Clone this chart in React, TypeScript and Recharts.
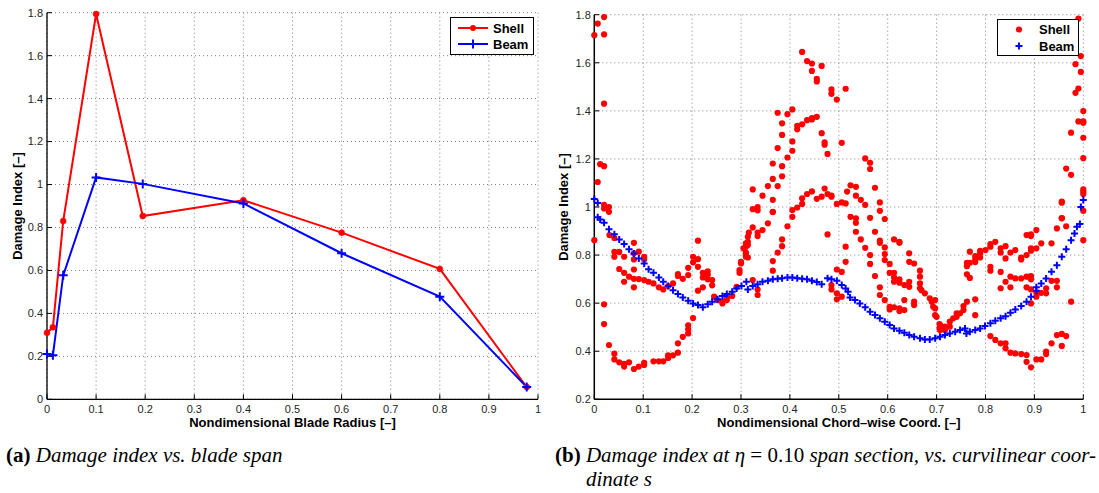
import React from "react";
import {
  LineChart,
  Line,
  XAxis,
  YAxis,
  CartesianGrid,
  Legend,
  ScatterChart,
  Scatter,
  Label,
} from "recharts";

const FONT = '"Liberation Sans", Arial, Helvetica, sans-serif';
const SERIF = '"Liberation Serif", "Times New Roman", Times, serif';
const RED = "#ff0000";
const BLUE = "#0000ff";

// ---------- (a) damage index vs blade span ----------
const spanRadius = [0, 0.012, 0.033, 0.1, 0.195, 0.4, 0.6, 0.8, 0.977];
const spanShell = [0.31, 0.335, 0.83, 1.794, 0.853, 0.927, 0.776, 0.607, 0.057];
const spanBeam = [0.211, 0.205, 0.577, 1.033, 1.003, 0.912, 0.68, 0.478, 0.057];
const radiusTicks = [0, 0.1, 0.2, 0.3, 0.4, 0.5, 0.6, 0.7, 0.8, 0.9, 1];
const spanIndexTicks = [0, 0.2, 0.4, 0.6, 0.8, 1, 1.2, 1.4, 1.6, 1.8];

// ---------- (b) damage index vs chord-wise coordinate ----------
const chordTicks = [0, 0.1, 0.2, 0.3, 0.4, 0.5, 0.6, 0.7, 0.8, 0.9, 1];
const chordIndexTicks = [0.2, 0.4, 0.6, 0.8, 1, 1.2, 1.4, 1.6, 1.8];
const seriesNames = ["Shell", "Beam"];

const chordShell: [number, number][] = [
  [0, 1.715], [0.007, 1.763], [0.02, 1.79], [0.02, 1.718], [0.02, 1.43], [0.012, 1.178], [0.02, 1.17], [0.007, 1.104],
  [0.02, 1.009], [0.02, 0.994], [0.03, 1.0], [0.03, 0.98],
  [0, 0.862], [0.02, 0.595], [0.02, 0.513], [0.03, 0.426], [0.041, 0.39], [0.041, 0.366],
  [0.051, 0.354], [0.061, 0.347], [0.061, 0.336], [0.071, 0.354], [0.081, 0.326], [0.091, 0.336], [0.102, 0.343], [0.102, 0.352],
  [0.121, 0.358], [0.132, 0.358], [0.141, 0.358], [0.151, 0.372], [0.151, 0.383], [0.161, 0.383], [0.171, 0.394], [0.171, 0.433],
  [0.181, 0.46], [0.192, 0.474], [0.192, 0.491], [0.192, 0.508], [0.202, 0.538],
  [0.031, 0.883], [0.041, 0.871], [0.041, 0.813], [0.041, 0.793], [0.051, 0.813], [0.051, 0.742], [0.061, 0.793], [0.061, 0.726], [0.061, 0.689], [0.071, 0.71],
  [0.081, 0.851], [0.081, 0.807], [0.081, 0.782], [0.081, 0.74], [0.081, 0.701], [0.081, 0.666], [0.091, 0.814], [0.091, 0.7], [0.102, 0.793], [0.102, 0.782], [0.102, 0.696],
  [0.111, 0.689], [0.121, 0.682], [0.132, 0.666], [0.141, 0.657], [0.151, 0.671], [0.161, 0.682], [0.171, 0.713], [0.171, 0.721], [0.181, 0.701], [0.192, 0.717], [0.192, 0.747],
  [0.202, 0.793], [0.202, 0.77], [0.212, 0.86], [0.212, 0.783], [0.212, 0.751], [0.212, 0.652], [0.222, 0.726], [0.222, 0.707], [0.222, 0.666], [0.232, 0.732], [0.232, 0.718], [0.232, 0.699], [0.241, 0.696], [0.241, 0.674],
  [0.245, 0.627], [0.252, 0.613], [0.262, 0.606], [0.262, 0.599], [0.271, 0.613], [0.271, 0.624], [0.282, 0.63], [0.291, 0.668], [0.297, 0.726], [0.297, 0.738], [0.3, 0.772], [0.3, 0.765],
  [0.305, 0.828], [0.31, 0.849], [0.31, 0.807], [0.314, 0.876], [0.316, 0.893],
  [0.314, 0.855], [0.314, 0.842], [0.31, 0.835], [0.31, 0.81], [0.31, 0.793], [0.314, 0.79], [0.324, 0.915], [0.334, 0.893], [0.334, 0.879], [0.344, 0.904], [0.355, 0.932], [0.365, 0.98],
  [0.395, 0.92], [0.384, 0.865], [0.384, 0.837], [0.375, 0.81], [0.365, 0.775], [0.365, 0.735], [0.324, 0.696], [0.334, 0.657], [0.334, 0.634],
  [0.425, 1.645], [0.435, 1.607], [0.445, 1.597], [0.445, 1.566], [0.455, 1.533], [0.455, 1.522], [0.465, 1.587], [0.485, 1.489], [0.485, 1.471], [0.496, 1.447], [0.514, 1.492],
  [0.375, 1.392], [0.395, 1.386], [0.405, 1.406], [0.384, 1.348], [0.384, 1.3], [0.415, 1.338], [0.415, 1.323], [0.425, 1.344], [0.435, 1.361], [0.445, 1.37], [0.445, 1.364], [0.455, 1.375], [0.465, 1.307], [0.471, 1.269], [0.471, 1.259], [0.477, 1.221], [0.506, 1.267],
  [0.375, 1.245], [0.405, 1.273], [0.405, 1.234], [0.395, 1.206], [0.365, 1.181], [0.384, 1.17], [0.384, 1.128], [0.365, 1.117], [0.375, 1.087], [0.355, 1.087], [0.324, 1.073], [0.344, 1.047], [0.365, 1.03], [0.365, 0.979],
  [0.324, 0.991], [0.334, 1.0], [0.334, 0.986], [0.405, 0.987], [0.405, 0.959], [0.415, 0.998], [0.425, 1.013], [0.425, 1.036], [0.435, 1.054], [0.445, 1.065], [0.455, 1.034], [0.465, 1.043], [0.471, 1.077], [0.477, 1.054], [0.485, 1.047], [0.485, 1.043], [0.496, 1.013], [0.506, 1.019], [0.514, 1.015],
  [0.517, 1.064], [0.524, 1.09], [0.535, 1.084], [0.535, 1.047], [0.545, 1.03], [0.554, 1.009], [0.554, 1.202], [0.564, 1.184], [0.564, 1.158], [0.574, 1.08], [0.584, 1.019], [0.584, 0.984],
  [0.524, 0.959], [0.535, 0.953], [0.564, 0.955], [0.594, 0.95],
  [0.535, 0.934], [0.535, 0.897], [0.545, 0.865], [0.554, 0.83], [0.477, 0.886], [0.514, 0.835], [0.514, 0.772], [0.496, 0.74], [0.506, 0.73], [0.485, 0.675], [0.485, 0.657], [0.496, 0.641], [0.496, 0.616], [0.506, 0.627],
  [0.574, 0.897], [0.584, 0.86], [0.584, 0.851], [0.564, 0.8], [0.564, 0.763], [0.574, 0.713], [0.584, 0.666], [0.584, 0.634],
  [0.594, 0.832], [0.594, 0.804], [0.594, 0.779], [0.594, 0.613], [0.604, 0.763], [0.604, 0.726], [0.604, 0.585], [0.604, 0.574],
  [0.613, 0.865], [0.624, 0.855], [0.624, 0.851], [0.613, 0.726], [0.613, 0.707], [0.613, 0.689], [0.624, 0.699], [0.624, 0.685], [0.624, 0.578], [0.624, 0.567], [0.613, 0.583],
  [0.634, 0.675], [0.634, 0.613], [0.634, 0.571], [0.644, 0.807], [0.644, 0.772], [0.644, 0.689], [0.644, 0.668], [0.654, 0.765], [0.654, 0.606], [0.654, 0.592],
  [0.666, 0.735], [0.666, 0.71], [0.666, 0.682], [0.666, 0.662], [0.669, 0.654], [0.676, 0.641], [0.686, 0.62], [0.69, 0.606], [0.693, 0.585], [0.697, 0.55], [0.7, 0.543], [0.706, 0.513], [0.706, 0.495],
  [0.697, 0.613], [0.697, 0.578], [0.707, 0.509], [0.707, 0.488], [0.717, 0.502], [0.717, 0.488], [0.727, 0.523], [0.727, 0.502], [0.734, 0.537], [0.741, 0.558], [0.741, 0.543], [0.748, 0.558], [0.755, 0.588], [0.755, 0.571], [0.762, 0.606],
  [0.779, 0.616], [0.779, 0.55],
  [0.762, 0.768], [0.762, 0.754], [0.768, 0.814], [0.768, 0.768], [0.762, 0.72], [0.768, 0.705], [0.779, 0.796], [0.779, 0.782], [0.779, 0.771], [0.789, 0.818], [0.789, 0.807], [0.789, 0.79], [0.8, 0.821],
  [0.82, 0.855], [0.81, 0.846], [0.81, 0.835], [0.841, 0.837], [0.831, 0.828], [0.831, 0.81], [0.861, 0.821], [0.851, 0.81], [0.884, 0.8], [0.873, 0.79], [0.873, 0.782], [0.904, 0.828], [0.893, 0.828], [0.893, 0.818], [0.914, 0.849], [0.935, 0.849],
  [0.893, 0.886], [0.884, 0.883], [0.893, 0.879], [0.904, 0.904], [0.946, 0.911], [0.965, 0.92], [0.956, 0.953], [0.956, 1.018], [1.0, 0.862],
  [0.841, 0.786], [0.831, 0.73], [0.81, 0.751], [0.81, 0.735], [0.851, 0.71], [0.841, 0.689], [0.861, 0.703], [0.873, 0.703], [0.884, 0.71], [0.893, 0.713], [0.893, 0.699], [0.851, 0.666], [0.831, 0.662], [0.884, 0.666], [0.893, 0.657], [0.904, 0.643], [0.914, 0.643], [0.924, 0.641], [0.924, 0.662], [0.935, 0.693], [0.946, 0.693], [0.946, 0.666], [0.904, 0.627], [0.893, 0.599], [0.975, 0.606],
  [0.81, 0.463], [0.82, 0.447], [0.831, 0.433], [0.841, 0.433], [0.841, 0.412], [0.851, 0.394], [0.861, 0.391], [0.873, 0.388], [0.884, 0.384], [0.884, 0.356], [0.893, 0.333], [0.904, 0.366], [0.914, 0.366], [0.924, 0.388], [0.924, 0.398], [0.935, 0.433], [0.946, 0.467], [0.956, 0.472], [0.965, 0.463], [0.956, 0.422],
  [0.99, 1.784], [0.995, 1.628], [0.984, 1.594], [0.995, 1.562], [0.99, 1.493], [0.984, 1.475], [1.0, 1.399], [0.99, 1.356], [1.0, 1.356], [1.0, 1.35], [0.975, 1.309], [1.0, 1.288], [1.0, 1.203], [0.965, 1.16], [0.975, 1.134], [1.0, 1.073], [1.0, 1.063], [1.0, 1.054], [0.956, 1.022], [1.0, 0.984], [0.956, 0.954],
];

const chordBeam: [number, number][] = [
  [0, 1.033], [0.007, 1.017], [0.007, 0.957], [0.012, 0.948], [0.02, 0.934], [0.03, 0.907], [0.041, 0.887], [0.051, 0.865], [0.061, 0.846], [0.071, 0.824], [0.081, 0.807], [0.091, 0.786], [0.102, 0.765],
  [0.111, 0.741], [0.121, 0.726], [0.132, 0.707], [0.141, 0.689], [0.151, 0.671], [0.161, 0.654], [0.171, 0.638], [0.181, 0.624], [0.192, 0.61], [0.202, 0.599], [0.212, 0.592], [0.222, 0.583],
  [0.232, 0.595], [0.241, 0.606], [0.252, 0.616], [0.262, 0.63], [0.271, 0.638], [0.282, 0.647], [0.291, 0.661], [0.301, 0.671], [0.311, 0.689],
  [0.314, 0.657], [0.324, 0.671], [0.334, 0.679], [0.344, 0.689], [0.355, 0.693], [0.365, 0.699], [0.375, 0.701], [0.384, 0.704], [0.395, 0.707], [0.405, 0.707], [0.415, 0.704], [0.425, 0.701], [0.435, 0.699], [0.445, 0.693], [0.455, 0.688], [0.465, 0.679],
  [0.477, 0.704], [0.485, 0.699], [0.496, 0.693], [0.506, 0.675], [0.514, 0.661], [0.519, 0.647], [0.523, 0.624], [0.533, 0.613], [0.543, 0.599], [0.554, 0.583], [0.564, 0.564], [0.574, 0.551], [0.584, 0.537], [0.594, 0.523],
  [0.604, 0.509], [0.613, 0.495], [0.624, 0.485], [0.634, 0.477], [0.644, 0.467], [0.654, 0.46], [0.666, 0.454], [0.676, 0.449], [0.686, 0.449], [0.697, 0.454], [0.707, 0.46], [0.717, 0.467], [0.727, 0.474], [0.738, 0.481], [0.748, 0.488], [0.758, 0.495],
  [0.761, 0.474], [0.768, 0.481], [0.779, 0.488], [0.789, 0.495], [0.799, 0.505], [0.81, 0.516], [0.82, 0.527], [0.831, 0.537], [0.841, 0.546], [0.851, 0.56], [0.861, 0.574], [0.873, 0.588], [0.884, 0.606],
  [0.893, 0.627], [0.904, 0.652], [0.904, 0.666], [0.914, 0.682], [0.924, 0.703], [0.935, 0.731], [0.946, 0.758], [0.956, 0.793], [0.965, 0.824], [0.975, 0.862], [0.982, 0.89], [0.987, 0.918], [0.993, 0.929], [0.995, 1.0], [1.0, 1.029],
];

const fmt = (v: number) => String(Math.round(v * 10) / 10);

const spanData = spanRadius.map((r, i) => ({ r, shell: spanShell[i], beam: spanBeam[i] }));
const shellPoints = chordShell.map(([s, v]) => ({ s, v }));
const beamPoints = chordBeam.map(([s, v]) => ({ s, v }));

const tickStyle = { fill: "#262626", fontSize: 11, fontFamily: FONT };

const PlusDot = (half: number, width: number) => (props: any) => {
  const { cx, cy, index } = props;
  if (cx == null || cy == null) return <g key={`p${index}`} />;
  return (
    <path
      key={`p${index}`}
      d={`M${cx - half},${cy}H${cx + half}M${cx},${cy - half}V${cy + half}`}
      stroke={BLUE}
      strokeWidth={width}
      fill="none"
    />
  );
};

const RedDot = (props: any) => {
  const { cx, cy } = props;
  if (cx == null || cy == null) return <g />;
  return <circle cx={cx} cy={cy} r={3.1} fill={RED} />;
};

const xTitle = (text: string) => (props: any) => {
  const vb = props.viewBox || {};
  return (
    <text
      x={vb.x + vb.width / 2}
      y={vb.y + 28}
      textAnchor="middle"
      fontFamily={FONT}
      fontSize={13}
      fontWeight="bold"
      fill="#000"
    >
      {text}
    </text>
  );
};

const yTitle = (text: string, dx: number) => (props: any) => {
  const vb = props.viewBox || {};
  const x = vb.x + dx;
  const y = vb.y + vb.height / 2;
  return (
    <text
      x={x}
      y={y}
      transform={`rotate(-90, ${x}, ${y})`}
      textAnchor="middle"
      fontFamily={FONT}
      fontSize={13}
      fontWeight="bold"
      fill="#000"
    >
      {text}
    </text>
  );
};

function SpanLegend() {
  return (
    <svg width={84} height={38} style={{ display: "block" }}>
      <rect x={0.5} y={0.5} width={83} height={37} fill="#fff" stroke="#000" strokeWidth={1} />
      <line x1={8} x2={38} y1={11} y2={11} stroke={RED} strokeWidth={2} />
      <circle cx={23} cy={11} r={3} fill={RED} />
      <text x={43} y={15.5} fontSize={13} fontWeight="bold" fontFamily={FONT} fill="#000">
        {seriesNames[0]}
      </text>
      <line x1={8} x2={38} y1={27} y2={27} stroke={BLUE} strokeWidth={2} />
      <path d="M18.5,27H27.5M23,22.5V31.5" stroke={BLUE} strokeWidth={2} />
      <text x={43} y={31.5} fontSize={13} fontWeight="bold" fontFamily={FONT} fill="#000">
        {seriesNames[1]}
      </text>
    </svg>
  );
}

function ChordLegend() {
  return (
    <svg width={82} height={37} style={{ display: "block" }}>
      <rect x={0.5} y={0.5} width={81} height={36} fill="#fff" stroke="#000" strokeWidth={1} />
      <circle cx={22} cy={10.5} r={3.1} fill={RED} />
      <text x={42} y={15} fontSize={13} fontWeight="bold" fontFamily={FONT} fill="#000">
        {seriesNames[0]}
      </text>
      <path d="M18.5,27H25.5M22,23.5V30.5" stroke={BLUE} strokeWidth={2} />
      <text x={42} y={31.5} fontSize={13} fontWeight="bold" fontFamily={FONT} fill="#000">
        {seriesNames[1]}
      </text>
    </svg>
  );
}

const captionStyle: React.CSSProperties = {
  position: "absolute",
  top: 443,
  fontFamily: SERIF,
  fontSize: 21,
  lineHeight: "24px",
  whiteSpace: "nowrap",
  color: "#000",
};

export default function App() {
  return (
    <div style={{ position: "absolute", left: 0, top: 0, width: 1099, height: 493, background: "#fff" }}>
      {/* (a) */}
      <div style={{ position: "absolute", left: 0, top: 0 }}>
        <LineChart
          width={550}
          height={430}
          data={spanData}
          margin={{ top: 12.7, right: 12, bottom: 0.7, left: 0 }}
          style={{ fontFamily: FONT }}
        >
          <CartesianGrid stroke="#808080" strokeDasharray="1 3" />
          <XAxis
            dataKey="r"
            type="number"
            domain={[0, 1]}
            ticks={radiusTicks}
            interval={0}
            tickFormatter={fmt}
            height={30}
            axisLine={{ stroke: "#000", strokeWidth: 1.3 }}
            tickLine={{ stroke: "#000" }}
            tickSize={-5}
            tickMargin={11}
            tick={tickStyle}
          >
            <Label content={xTitle("Nondimensional Blade Radius [–]")} />
          </XAxis>
          <XAxis
            xAxisId="top"
            orientation="top"
            type="number"
            domain={[0, 1]}
            ticks={radiusTicks}
            interval={0}
            height={0}
            tick={false}
            tickSize={-5}
            axisLine={{ stroke: "#000", strokeWidth: 1.3 }}
            tickLine={{ stroke: "#000" }}
          />
          <YAxis
            type="number"
            domain={[0, 1.8]}
            ticks={spanIndexTicks}
            interval={0}
            tickFormatter={fmt}
            width={47}
            axisLine={{ stroke: "#000", strokeWidth: 1.3 }}
            tickLine={{ stroke: "#000" }}
            tickSize={-5}
            tickMargin={9}
            tick={tickStyle}
          >
            <Label content={yTitle("Damage Index [–]", 21.5)} />
          </YAxis>
          <YAxis
            yAxisId="right"
            orientation="right"
            type="number"
            domain={[0, 1.8]}
            ticks={spanIndexTicks}
            interval={0}
            width={0}
            tick={false}
            tickSize={-5}
            axisLine={{ stroke: "#000", strokeWidth: 1.3 }}
            tickLine={{ stroke: "#000" }}
          />
          <Line
            name={seriesNames[0]}
            dataKey="shell"
            stroke={RED}
            strokeWidth={2}
            dot={{ r: 3, fill: RED, stroke: RED, strokeWidth: 0.5 }}
            isAnimationActive={false}
          />
          <Line
            name={seriesNames[1]}
            dataKey="beam"
            stroke={BLUE}
            strokeWidth={2}
            dot={PlusDot(4.5, 2)}
            isAnimationActive={false}
          />
          <Legend
            layout="vertical"
            align="center"
            verticalAlign="middle"
            wrapperStyle={{ left: 450, top: 17, width: 84, height: 38 }}
            content={() => <SpanLegend />}
          />
        </LineChart>
      </div>

      {/* (b) */}
      <div style={{ position: "absolute", left: 549, top: 0 }}>
        <ScatterChart
          width={550}
          height={430}
          margin={{ top: 14.7, right: 15.7, bottom: 0.7, left: 0 }}
          style={{ fontFamily: FONT }}
        >
          <CartesianGrid stroke="#808080" strokeDasharray="1 3" />
          <XAxis
            dataKey="s"
            type="number"
            domain={[0, 1]}
            ticks={chordTicks}
            interval={0}
            tickFormatter={fmt}
            height={30}
            axisLine={{ stroke: "#000", strokeWidth: 1.5 }}
            tickLine={{ stroke: "#000" }}
            tickSize={-5}
            tickMargin={11}
            tick={tickStyle}
          >
            <Label content={xTitle("Nondimensional Chord–wise Coord. [–]")} />
          </XAxis>
          <XAxis
            xAxisId="top"
            orientation="top"
            type="number"
            domain={[0, 1]}
            ticks={chordTicks}
            interval={0}
            height={0}
            tick={false}
            tickSize={-5}
            axisLine={{ stroke: "#222", strokeWidth: 2.5 }}
            tickLine={{ stroke: "#000" }}
          />
          <YAxis
            dataKey="v"
            type="number"
            domain={[0.2, 1.8]}
            ticks={chordIndexTicks}
            interval={0}
            tickFormatter={fmt}
            width={45.3}
            axisLine={{ stroke: "#000", strokeWidth: 1.5 }}
            tickLine={{ stroke: "#000" }}
            tickSize={-5}
            tickMargin={8.5}
            tick={tickStyle}
          >
            <Label content={yTitle("Damage Index [–]", 19)} />
          </YAxis>
          <YAxis
            yAxisId="right"
            orientation="right"
            type="number"
            domain={[0.2, 1.8]}
            ticks={chordIndexTicks}
            interval={0}
            width={0}
            tick={false}
            tickSize={-5}
            axisLine={{ stroke: "#222", strokeWidth: 2 }}
            tickLine={{ stroke: "#000" }}
          />
          <Scatter name={seriesNames[0]} data={shellPoints} fill={RED} shape={RedDot} isAnimationActive={false} />
          <Scatter name={seriesNames[1]} data={beamPoints} fill={BLUE} shape={PlusDot(3.5, 2)} isAnimationActive={false} />
          <Legend
            layout="vertical"
            align="center"
            verticalAlign="middle"
            wrapperStyle={{ left: 447.7, top: 19, width: 82, height: 37 }}
            content={() => <ChordLegend />}
          />
        </ScatterChart>
      </div>

      {/* captions */}
      <div style={{ ...captionStyle, left: 6 }}>
        <b>(a)</b> <i>Damage index vs. blade span</i>
      </div>
      <div style={{ ...captionStyle, left: 555 }}>
        <div>
          <b>(b)</b> <i>Damage index at η</i> = 0.10 <i>span section, vs. curvilinear coor-</i>
        </div>
        <div style={{ paddingLeft: 31 }}>
          <i>dinate s</i>
        </div>
      </div>
    </div>
  );
}
